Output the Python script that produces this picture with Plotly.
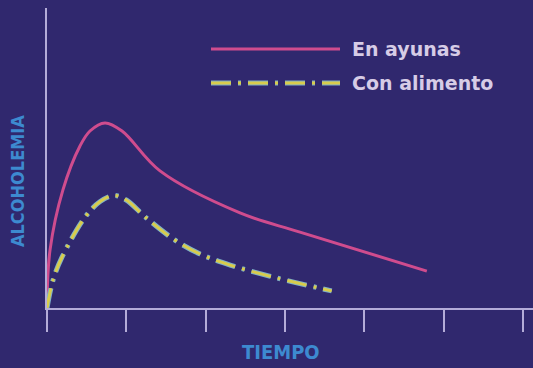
import plotly.graph_objects as go

# Data (time in tick units, alcoholemia in arbitrary units 0-100)
ayunas_t = [0, 0.038, 0.20, 0.416, 0.542, 0.731, 0.946, 1.425, 2.434, 3.19, 4.79]
ayunas_v = [2.0, 19.3, 39.3, 54.0, 59.0, 61.7, 59.0, 45.7, 31.7, 25.3, 12.3]

alimento_t = [0, 0.076, 0.19, 0.48, 0.67, 0.845, 1.0, 1.24, 1.61, 1.93, 2.31, 2.90, 3.59]
alimento_v = [0, 9.3, 17.0, 30.3, 35.5, 37.5, 36.0, 30.3, 22.7, 18.0, 14.3, 10.0, 5.7]

tick_vals = [0, 1, 2, 3, 4, 5, 6]
series_names = ["En ayunas", "Con alimento"]
x_title = "TIEMPO"
y_title = "ALCOHOLEMIA"

BG = "#30286e"
AXIS = "#b4acd8"
PINK = "#cf4c8e"
YEL = "#d8cc4c"
BLUE_UNDER = "#7fb0c8"
TITLE = "#3d8ad0"
LEG_TXT = "#d6cce6"
DASH = "20px,7px,3px,7px"
TITLE_FONT = "Liberation Sans Narrow, DejaVu Sans Condensed, Liberation Sans"

fig = go.Figure()
fig.add_trace(go.Scatter(x=ayunas_t, y=ayunas_v, mode="lines",
                         line=dict(color=PINK, width=3, shape="spline", smoothing=1.0),
                         name=series_names[0], showlegend=False, hoverinfo="skip"))
fig.add_trace(go.Scatter(x=alimento_t, y=alimento_v, mode="lines",
                         line=dict(color=BLUE_UNDER, width=5, shape="spline", smoothing=1.0, dash=DASH),
                         showlegend=False, hoverinfo="skip"))
fig.add_trace(go.Scatter(x=alimento_t, y=alimento_v, mode="lines",
                         line=dict(color=YEL, width=3, shape="spline", smoothing=1.0, dash=DASH),
                         name=series_names[1], showlegend=False, hoverinfo="skip"))

W, H = 533, 368
ML, MR, MT, MB = 47, 0, 8, 60
PW, PH = W - ML - MR, H - MT - MB

def px(x):
    return (x - ML) / PW

def py(y):
    return (H - MB - y) / PH

shapes = [
    dict(type="line", xref="paper", yref="paper", x0=px(211), x1=px(340), y0=py(49), y1=py(49),
         line=dict(color=PINK, width=3)),
    dict(type="line", xref="paper", yref="paper", x0=px(211), x1=px(340), y0=py(83), y1=py(83),
         line=dict(color=BLUE_UNDER, width=5, dash=DASH)),
    dict(type="line", xref="paper", yref="paper", x0=px(211), x1=px(340), y0=py(83), y1=py(83),
         line=dict(color=YEL, width=3, dash=DASH)),
]
annotations = [
    dict(xref="paper", yref="paper", x=px(350), y=py(49), text="<b>" + series_names[0] + "</b>", showarrow=False,
         xanchor="left", yanchor="middle", font=dict(family="DejaVu Sans", size=19, color=LEG_TXT)),
    dict(xref="paper", yref="paper", x=px(350), y=py(83), text="<b>" + series_names[1] + "</b>", showarrow=False,
         xanchor="left", yanchor="middle", font=dict(family="DejaVu Sans", size=19, color=LEG_TXT)),
    dict(xref="paper", yref="paper", x=px(281), y=py(352), text="<b>" + x_title + "</b>", showarrow=False,
         xanchor="center", yanchor="middle", font=dict(family=TITLE_FONT, size=20, color=TITLE)),
    dict(xref="paper", yref="paper", x=px(17), y=py(181), text="<b>" + y_title + "</b>", showarrow=False,
         textangle=-90, xanchor="center", yanchor="middle", font=dict(family=TITLE_FONT, size=18, color=TITLE)),
]

fig.update_layout(
    width=W, height=H,
    paper_bgcolor=BG, plot_bgcolor=BG,
    margin=dict(l=ML, r=MR, t=MT, b=MB),
    shapes=shapes, annotations=annotations,
    xaxis=dict(range=[0, PW / 79.3], tickvals=tick_vals, showticklabels=False, ticks="outside",
               ticklen=22, tickwidth=2, tickcolor=AXIS, showline=True, linecolor=AXIS, linewidth=2,
               showgrid=False, zeroline=False, fixedrange=True),
    yaxis=dict(range=[0, 100], showticklabels=False, ticks="", showline=True, linecolor=AXIS, linewidth=2,
               showgrid=False, zeroline=False, fixedrange=True),
    showlegend=False,
)

fig.write_html("out.html", config={"displayModeBar": False},
               post_script="document.body.style.margin='0';document.body.style.overflow='hidden';")
